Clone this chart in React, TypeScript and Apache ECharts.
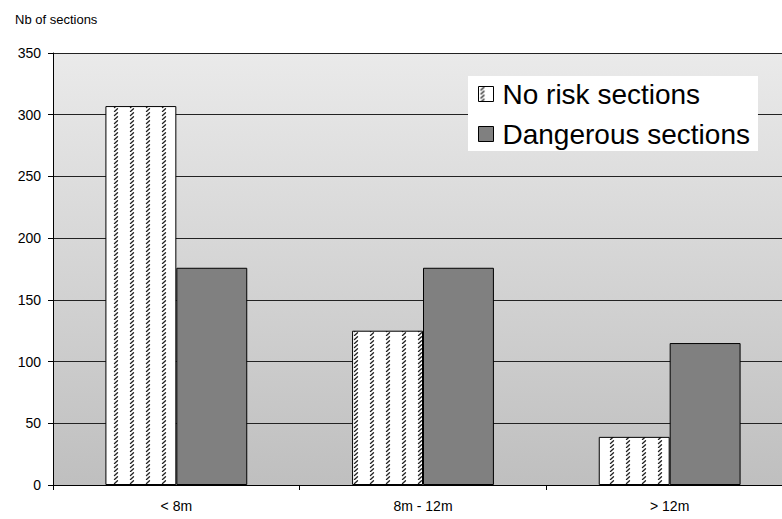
import React, { useEffect, useRef } from "react";
import * as echarts from "echarts";

const categories = ["< 8m", "8m - 12m", "> 12m"];
const noRisk = [307, 125, 39];
const dangerous = [176, 176, 115];
const yTicks = { min: 0, max: 350, interval: 50 };

function makePattern(): string {
  const c = document.createElement("canvas");
  c.width = 16;
  c.height = 8;
  const ctx = c.getContext("2d")!;
  ctx.fillStyle = "#ffffff";
  ctx.fillRect(0, 0, 16, 8);
  ctx.strokeStyle = "#222222";
  ctx.lineWidth = 1.3;
  ctx.lineCap = "round";
  ctx.beginPath();
  ctx.moveTo(2.5, 3.5);
  ctx.lineTo(5.5, 0.8);
  ctx.moveTo(2.5, 7.5);
  ctx.lineTo(5.5, 4.8);
  ctx.stroke();
  return c.toDataURL();
}

export default function App() {
  const ref = useRef<HTMLDivElement>(null);
  useEffect(() => {
    document.body.style.margin = "0";
    const chart = echarts.init(ref.current!, null, { renderer: "svg" });
    const pattern = { image: makePattern(), repeat: "repeat" } as any;
    chart.setOption({
      animation: false,
      textStyle: { fontFamily: "Arial, 'Liberation Sans', sans-serif" },
      title: {
        text: "Nb of sections",
        left: 10,
        top: 8,
        textStyle: { fontSize: 13, fontWeight: "normal", color: "#000" },
      },
      legend: {
        orient: "vertical",
        left: 468,
        top: 76,
        width: 289,
        backgroundColor: "#ffffff",
        padding: [4, 8, 3, 10],
        itemGap: 12,
        itemWidth: 15,
        itemHeight: 15,
        icon: "rect",
        textStyle: { fontSize: 28, color: "#000", padding: [0, 0, 0, 4] },
        data: [
          { name: "No risk sections", itemStyle: { color: pattern, borderColor: "#000", borderWidth: 1 } },
          { name: "Dangerous sections", itemStyle: { color: "#808080", borderColor: "#000", borderWidth: 1 } },
        ],
      },
      grid: {
        left: 53,
        right: 0,
        top: 53,
        bottom: 34,
        show: true,
        borderWidth: 0,
        backgroundColor: {
          type: "linear",
          x: 0, y: 0, x2: 0, y2: 1,
          colorStops: [
            { offset: 0, color: "#eaeaea" },
            { offset: 1, color: "#bfbfbf" },
          ],
        },
      },
      xAxis: {
        type: "category",
        data: categories,
        axisLine: { lineStyle: { color: "#000", width: 1 } },
        axisTick: { show: true, length: 5, lineStyle: { color: "#000" } },
        axisLabel: { fontSize: 14, color: "#000", margin: 14 },
      },
      yAxis: {
        type: "value",
        min: yTicks.min,
        max: yTicks.max,
        interval: yTicks.interval,
        axisLine: { show: true, lineStyle: { color: "#000" } },
        axisTick: { show: true, length: 5, lineStyle: { color: "#000" } },
        axisLabel: { fontSize: 14, color: "#000", margin: 12 },
        splitLine: { lineStyle: { color: "#222", width: 1 } },
      },
      series: [
        {
          name: "No risk sections",
          type: "bar",
          data: noRisk,
          barGap: "0%",
          barCategoryGap: "42.5%",
          itemStyle: { color: pattern, borderColor: "#000", borderWidth: 1 },
        },
        {
          name: "Dangerous sections",
          type: "bar",
          data: dangerous,
          itemStyle: { color: "#808080", borderColor: "#000", borderWidth: 1 },
        },
      ],
    });
    return () => chart.dispose();
  }, []);
  return (
    <div style={{ width: 782, height: 519, overflow: "hidden" }}>
      <div ref={ref} style={{ width: 793, height: 519 }} />
    </div>
  );
}
